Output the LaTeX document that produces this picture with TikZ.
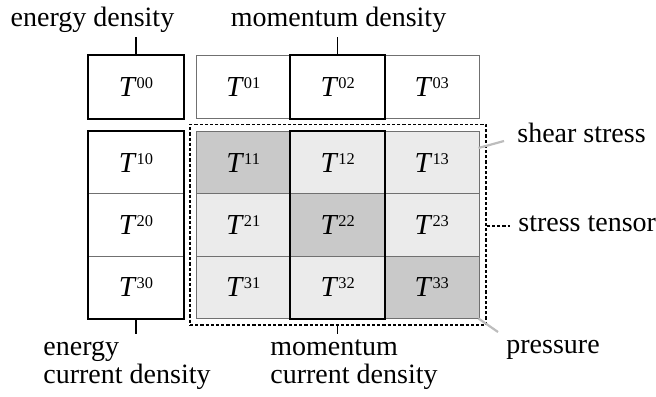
\documentclass[tikz,border=0pt]{standalone}
\usepackage{fontspec}
\setmainfont{Liberation Serif}
\definecolor{darkcell}{HTML}{C9C9C9}
\definecolor{lightcell}{HTML}{EBEBEB}
\definecolor{thinline}{HTML}{707070}
\definecolor{leadgray}{HTML}{BDBDBD}
\newcommand{\Tsup}[1]{\textit{T}\raisebox{4pt}{\fontsize{8.2}{8.2}\selectfont #1}}
\begin{document}
\begin{tikzpicture}[x=0.5pt,y=-0.5pt,
  cell/.style={draw=thinline,line width=0.5pt,minimum width=47.2pt,minimum height=31.2pt,inner sep=0pt,font=\fontsize{14.5}{14.5}\selectfont},
  toprow/.style={cell,minimum height=31.5pt},
  dk/.style={fill=darkcell},
  lt/.style={fill=lightcell},
  thickbox/.style={draw=black,line width=1pt},
  lab/.style={font=\fontsize{14}{14}\selectfont,inner sep=0pt},
  tick/.style={draw=black,line width=0.6pt},
  lead/.style={draw=leadgray,line width=1.1pt},
  dotbox/.style={draw=black,line width=0.8pt,dash pattern=on 1.6pt off 1pt}]
\useasboundingbox (0,0) rectangle (656,396);
% top row
\node[toprow] (c00) at (136,86.8) {\Tsup{00}};
\node[toprow] (c01) at (243.2,86.8) {\Tsup{01}};
\node[toprow] (c02) at (337.7,86.8) {\Tsup{02}};
\node[toprow] (c03) at (431.8,86.8) {\Tsup{03}};
% column 0
\node[cell] (c10) at (136,162.6) {\Tsup{10}};
\node[cell] (c20) at (136,224.9) {\Tsup{20}};
\node[cell] (c30) at (136,287.2) {\Tsup{30}};
% stress block
\node[cell,dk] (c11) at (243.2,162.6) {\Tsup{11}};
\node[cell,lt] (c12) at (337.7,162.6) {\Tsup{12}};
\node[cell,lt] (c13) at (431.8,162.6) {\Tsup{13}};
\node[cell,lt] (c21) at (243.2,224.9) {\Tsup{21}};
\node[cell,dk] (c22) at (337.7,224.9) {\Tsup{22}};
\node[cell,lt] (c23) at (431.8,224.9) {\Tsup{23}};
\node[cell,lt] (c31) at (243.2,287.2) {\Tsup{31}};
\node[cell,lt] (c32) at (337.7,287.2) {\Tsup{32}};
\node[cell,dk] (c33) at (431.8,287.2) {\Tsup{33}};
% thick outlines
\draw[thickbox] (c00.north west) rectangle (c00.south east);
\draw[thickbox] (c02.north west) rectangle (c02.south east);
\draw[thickbox] (c10.north west) rectangle (c30.south east);
\draw[thickbox] (c12.north west) rectangle (c32.south east);
% dotted stress tensor box
\node[dotbox,inner sep=0pt,minimum width=148pt,minimum height=100.4pt] (stressbox) at (338,224.7) {};
% labels
\node[lab,anchor=base] (ed) at (92.5,26) {energy density};
\node[lab,anchor=base] (md) at (338.5,26) {momentum density};
\node[lab,anchor=base west] (ss) at (517,142) {shear stress};
\node[lab,anchor=base west] (st) at (518,231) {stress tensor};
\node[lab,anchor=base west] (pr) at (506,353) {pressure};
\node[lab,anchor=base west] (ecd1) at (43,355) {energy};
\node[lab,anchor=base west] (ecd2) at (43,383) {current density};
\node[lab,anchor=base west] (mcd1) at (270,355) {momentum};
\node[lab,anchor=base west] (mcd2) at (270,383) {current density};
% leader coordinates
\coordinate (edt) at (136,37);
\coordinate (mdt) at (337.7,37);
\coordinate (ecdt) at (136,334);
\coordinate (mcdt) at (337.7,334);
\coordinate (sst) at (504,141);
\coordinate (sss) at (478.5,148);
\coordinate (prt) at (498,332);
\coordinate (prs) at (478.5,318.5);
\coordinate (stt) at (510,226);
% leaders
\draw[tick] (c00.north) -- (edt);
\draw[tick] (c02.north) -- (mdt);
\draw[tick] (c30.south) -- (ecdt);
\draw[tick] (stressbox.south -| c32.south) -- (mcdt);
\draw[lead] (sss) -- (sst);
\draw[lead] (prs) -- (prt);
\draw[dotbox,line width=0.6pt] (stressbox.east |- stt) -- (stt);
\end{tikzpicture}
\end{document}
